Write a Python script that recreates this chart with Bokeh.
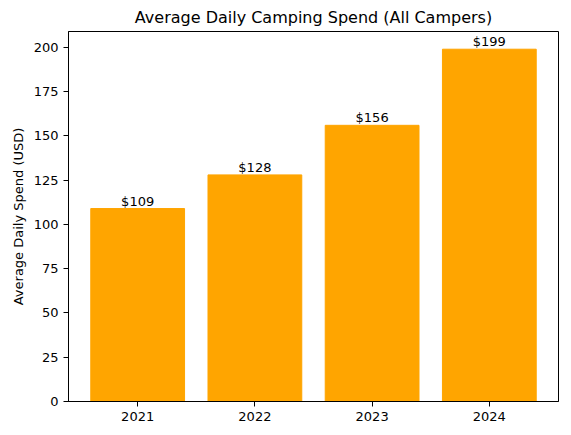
from bokeh.plotting import figure
from bokeh.models import ColumnDataSource, Range1d, FixedTicker
from bokeh.embed import file_html
from bokeh.resources import INLINE

years = ['2021', '2022', '2023', '2024']
spend = [109, 128, 156, 199]
labels = ['$' + str(v) for v in spend]

source = ColumnDataSource(data=dict(x=list(range(len(years))), spend=spend, labels=labels))

p = figure(width=563, height=427,
           title="Average Daily Camping Spend (All Campers)",
           x_range=Range1d(-0.59, 3.59), y_range=Range1d(0, 209),
           output_backend="svg", toolbar_location=None,
           min_border_left=68, min_border_right=5,
           min_border_top=31, min_border_bottom=26)

p.vbar(x='x', top='spend', width=0.8, source=source, color='#FFA500')
p.text(x='x', y='spend', text='labels', source=source,
       text_align='center', text_baseline='bottom',
       text_font_size='13px', text_color='black',
       text_font={'value': 'DejaVu Sans'})

p.title.align = 'center'
p.title.text_font = 'DejaVu Sans'
p.title.text_font_style = 'normal'
p.title.text_font_size = '16px'
p.title.text_color = 'black'

p.xaxis.ticker = FixedTicker(ticks=[0, 1, 2, 3])
p.xaxis.major_label_overrides = {i: y for i, y in enumerate(years)}
p.yaxis.ticker = FixedTicker(ticks=[0, 25, 50, 75, 100, 125, 150, 175, 200])
p.yaxis.axis_label = 'Average Daily Spend (USD)'
p.yaxis.axis_label_text_font = 'DejaVu Sans'
p.yaxis.axis_label_text_font_style = 'normal'
p.yaxis.axis_label_text_font_size = '13px'
p.yaxis.axis_label_text_color = 'black'

for ax in (p.xaxis, p.yaxis):
    ax.major_label_text_font = 'DejaVu Sans'
    ax.major_label_text_font_size = '13px'
    ax.major_label_text_color = 'black'
    ax.axis_line_color = 'black'
    ax.major_tick_line_color = 'black'
    ax.major_tick_out = 5
    ax.major_tick_in = 0
    ax.minor_tick_line_color = None

p.xgrid.grid_line_color = None
p.ygrid.grid_line_color = None
p.outline_line_color = 'black'
p.outline_line_alpha = 1

open("out.html", "w").write(file_html(p, INLINE))
